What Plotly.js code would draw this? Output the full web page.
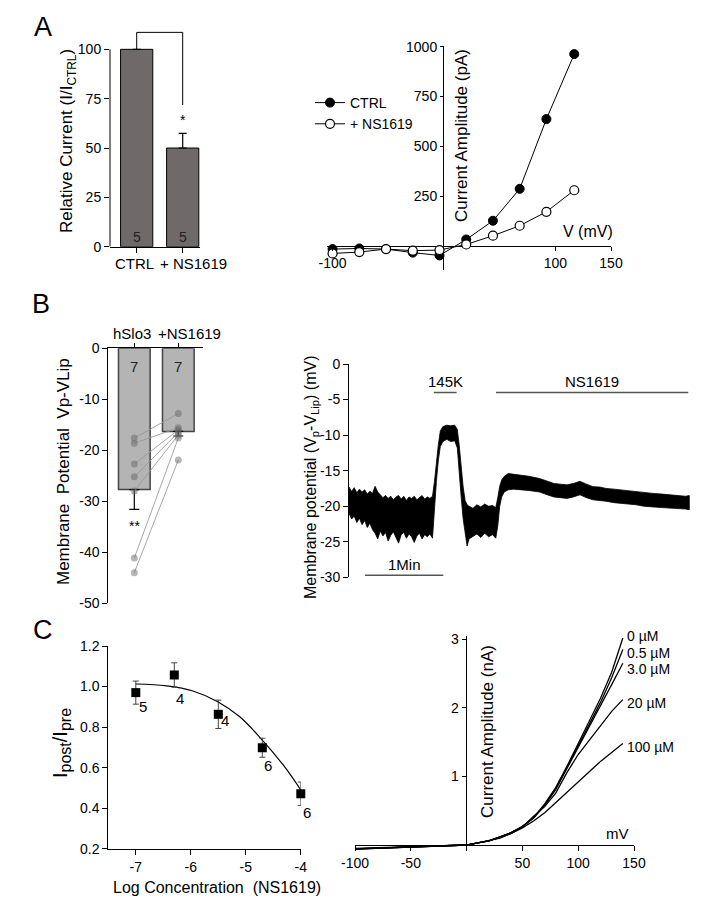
<!DOCTYPE html>
<html><head><meta charset="utf-8">
<script src="https://cdn.plot.ly/plotly-3.0.1.min.js"></script>
<style>html,body{margin:0;padding:0;background:#fff}#chart{width:716px;height:904px}</style>
</head><body><div id="chart"></div>
<script>
// ---------- Panel A (left): relative current ----------
const aCats = ['CTRL', '+ NS1619'];
const aRel = [100, 50];
const aRelErr = [0, 7.4];
const aN = ['5', '5'];
// ---------- Panel A (right): I-V curves ----------
const aV = [-100, -76, -52, -28, -4, 20, 44, 68, 92, 117];
const aCtrl = [-15, -12, -15, -33, -47, 33, 127, 287, 637, 963];
const aNs = [-37, -30, -15, -23, -20, 8, 52, 102, 172, 280];
// ---------- Panel B (left): membrane potential bars ----------
const bCats = ['hSlo3', '+NS1619'];
const bMean = [-27.7, -16.3];
const bErr = [3.9, 0.9];
const bN = ['7', '7'];
const bCellCtrl = [-17.6, -18.6, -22.7, -25.2, -28.0, -41.1, -44.0];
const bCellNs = [-12.8, -15.6, -16.0, -16.5, -17.0, -17.6, -21.9];
// ---------- Panel B (right): recording trace (envelope of noisy trace) ----------
const bT = [0,2,4,6,8,10,12,14,16,18,20,22,24,26,28,30,32,34,36,38,40,42,44,46,48,50,52,54,56,58,60,62,64,
  65.5,67,68.5,70,72,75,78,81,83,84.5,86,87.5,89,90.5,92,95,98,101,104,107,110,112.5,114,115.5,117,119,122,126,131,
  138,146,152,157,162,167,172,177,182,187,192,197,203,208,214,220,226,233,240,246,252,258,260.8];
const bTop = [-17.3,-17.9,-17.4,-18.1,-17.6,-18.0,-17.7,-18.3,-17.9,-18.2,-17.2,-18.0,-18.4,-18.8,-18.5,-18.9,-18.6,-19.1,-18.7,-18.5,-19.0,-18.6,-19.2,-18.7,-18.9,-18.6,-19.1,-18.8,-18.5,-19.0,-18.7,-18.9,-18.6,
  -16.5,-13.5,-11.3,-9.4,-8.8,-8.6,-8.7,-8.6,-9.2,-11.5,-14.5,-17.3,-19.2,-19.8,-20.0,-20.3,-19.8,-20.1,-19.7,-20.0,-19.9,-20.2,-18.8,-17.2,-16.3,-15.8,-15.4,-15.5,-15.6,
  -15.8,-16.1,-16.5,-16.8,-16.9,-17.0,-16.8,-16.5,-16.9,-17.25,-17.3,-17.5,-17.6,-17.7,-17.9,-18.0,-18.1,-18.2,-18.3,-18.4,-18.5,-18.6,-18.5];
const bBot = [-21.0,-21.8,-21.4,-22.3,-21.7,-22.6,-22.0,-23.0,-22.4,-23.3,-23.8,-24.6,-23.5,-24.2,-23.7,-24.9,-24.1,-23.6,-24.4,-25.2,-24.0,-23.7,-24.5,-23.9,-24.3,-25.1,-24.2,-23.8,-24.6,-24.0,-24.3,-23.9,-24.5,
  -20.5,-16.5,-13.5,-11.6,-10.9,-10.6,-10.9,-10.8,-11.8,-15.0,-18.8,-21.8,-24.0,-25.6,-24.6,-24.2,-23.9,-24.4,-23.8,-24.3,-24.0,-24.5,-22.8,-20.0,-18.7,-18.0,-17.7,-17.6,-17.7,
  -17.8,-18.0,-18.4,-18.7,-18.8,-18.9,-18.7,-18.4,-18.8,-19.1,-19.2,-19.3,-19.5,-19.6,-19.7,-19.8,-20.0,-20.1,-20.2,-20.3,-20.3,-20.4,-20.5];
const bMarkText = ['145K', 'NS1619', '1Min'];
const bMarkT0 = [65, 112.7, 12.3];
const bMarkT1 = [82.5, 260, 72.3];
const bMarkY = [-4, -4, -29.7];
// ---------- Panel C (left): concentration response ----------
const cLogC = [-7, -6.3, -5.5, -4.7, -4];
const cRatio = [0.97, 1.057, 0.863, 0.698, 0.471];
const cErr = [0.057, 0.06, 0.07, 0.047, 0.058];
const cN = ['5', '4', '4', '6', '6'];
const cFitX = [-7, -6.44, -5.96, -5.51, -5.11, -4.70, -4.32, -4.0];
const cFitY = [1.0125, 1.003, 0.978, 0.925, 0.851, 0.736, 0.613, 0.49];
// ---------- Panel C (right): ramp I-V traces ----------
const cV = [-100, -75, -50, -25, 0, 10, 20, 30, 40, 50, 60, 70, 80, 90, 100, 110, 120, 130, 140];
const cConc = ['0 \u00b5M', '0.5 \u00b5M', '3.0 \u00b5M', '20 \u00b5M', '100 \u00b5M'];
const cI0   = [-0.06,-0.045,-0.03,-0.015,0,0.03,0.06,0.12,0.18,0.27,0.40,0.60,0.84,1.15,1.48,1.80,2.14,2.52,3.02];
const cI05  = [-0.06,-0.045,-0.03,-0.015,0,0.03,0.06,0.12,0.18,0.27,0.40,0.59,0.83,1.13,1.45,1.76,2.08,2.44,2.85];
const cI3   = [-0.055,-0.04,-0.028,-0.014,0,0.03,0.06,0.12,0.18,0.27,0.39,0.58,0.81,1.12,1.42,1.72,2.02,2.34,2.65];
const cI20  = [-0.055,-0.04,-0.028,-0.014,0,0.03,0.06,0.11,0.17,0.26,0.42,0.56,0.76,1.06,1.32,1.53,1.74,1.95,2.12];
const cI100 = [-0.05,-0.038,-0.026,-0.013,0,0.03,0.06,0.10,0.17,0.25,0.35,0.47,0.62,0.77,0.92,1.08,1.22,1.35,1.48];
const cSeries = [cI0, cI05, cI3, cI20, cI100];

// ---------- layout helpers ----------
const W = 716, H = 904;
const PX = v => v / W;
const PY = v => 1 - v / H;
const FONT = 'Liberation Sans, Arial, Helvetica, sans-serif';
const txt = a => a.map(v => String(v));
const axBase = {showgrid:false, zeroline:false, showline:true, linecolor:'#000', linewidth:1,
  ticks:'outside', ticklen:5, tickwidth:1, tickcolor:'#000', tickfont:{size:14, color:'#000'}, tickangle:0, fixedrange:true};
const crossAx = {showline:false, zeroline:true, zerolinecolor:'#000', zerolinewidth:1};

const traces = [];
// A left
traces.push({type:'bar', x:aCats.map((_, i) => i), y:aRel, xaxis:'x', yaxis:'y', width:0.7,
  marker:{color:'#6f6969', line:{color:'#000', width:1}},
  error_y:{type:'data', symmetric:false, array:aRelErr, arrayminus:aRel.map(() => 0), color:'#000', thickness:1.2, width:4},
  showlegend:false, hoverinfo:'skip'});
// A right
traces.push({type:'scatter', mode:'lines+markers', name:'CTRL', x:aV, y:aCtrl, xaxis:'x2', yaxis:'y2',
  line:{color:'#000', width:1}, marker:{symbol:'circle', size:9, color:'#000', line:{color:'#000', width:1}}, cliponaxis:false});
traces.push({type:'scatter', mode:'lines+markers', name:'+ NS1619', x:aV, y:aNs, xaxis:'x2', yaxis:'y2',
  line:{color:'#000', width:1}, marker:{symbol:'circle', size:9, color:'#fff', line:{color:'#000', width:1.2}}, cliponaxis:false});
// B left
traces.push({type:'bar', x:bCats.map((_, i) => i), y:bMean, xaxis:'x3', yaxis:'y3', width:0.72,
  marker:{color:'#b4b4b4', line:{color:'#444', width:1.5}},
  error_y:{type:'data', symmetric:false, array:bMean.map(() => 0), arrayminus:bErr, color:'#000', thickness:1.2, width:5},
  showlegend:false, hoverinfo:'skip'});
const pairX = [], pairY = [];
bCellCtrl.forEach((v, i) => { pairX.push(0, 1, null); pairY.push(v, bCellNs[i], null); });
traces.push({type:'scatter', mode:'lines', x:pairX, y:pairY, xaxis:'x3', yaxis:'y3',
  line:{color:'rgba(150,150,150,0.85)', width:1}, showlegend:false, hoverinfo:'skip'});
traces.push({type:'scatter', mode:'markers', x:bCellCtrl.map(() => 0).concat(bCellNs.map(() => 1)),
  y:bCellCtrl.concat(bCellNs), xaxis:'x3', yaxis:'y3',
  marker:{color:'rgba(95,95,95,0.45)', size:7}, showlegend:false, hoverinfo:'skip', cliponaxis:false});
// B right
traces.push({type:'scatter', mode:'lines', x:bT.concat(bT.slice().reverse()), y:bTop.concat(bBot.slice().reverse()),
  fill:'toself', fillcolor:'#000', line:{color:'#000', width:0.8}, xaxis:'x4', yaxis:'y4', showlegend:false, hoverinfo:'skip'});
bMarkText.forEach((t, i) => {
  traces.push({type:'scatter', mode:'lines', x:[bMarkT0[i], bMarkT1[i]], y:[bMarkY[i], bMarkY[i]], xaxis:'x4', yaxis:'y4',
    line:{color:'#555', width:1.5}, showlegend:false, hoverinfo:'skip', cliponaxis:false});
});
// C left
traces.push({type:'scatter', mode:'lines', x:cFitX, y:cFitY, xaxis:'x5', yaxis:'y5', line:{color:'#000', width:1.2, shape:'spline'},
  showlegend:false, hoverinfo:'skip'});
traces.push({type:'scatter', mode:'markers', x:cLogC, y:cRatio, xaxis:'x5', yaxis:'y5',
  marker:{symbol:'square', size:9, color:'#000'},
  error_y:{type:'data', array:cErr, color:'#444', thickness:1, width:3}, cliponaxis:false, showlegend:false, hoverinfo:'skip'});
// C right
cSeries.forEach((s, i) => {
  traces.push({type:'scatter', mode:'lines', x:cV, y:s, xaxis:'x6', yaxis:'y6', line:{color:'#000', width:1.3},
    showlegend:false, hoverinfo:'skip', cliponaxis:false});
});

const ann = [];
const A = (o) => ann.push(Object.assign({showarrow:false, xanchor:'center', yanchor:'middle', font:{size:15, color:'#000'}}, o));
// panel letters
A({xref:'paper', yref:'paper', x:PX(43), y:PY(27), text:'A', font:{size:27, color:'#000'}});
A({xref:'paper', yref:'paper', x:PX(41), y:PY(304), text:'B', font:{size:27, color:'#000'}});
A({xref:'paper', yref:'paper', x:PX(43), y:PY(630), text:'C', font:{size:27, color:'#000'}});
// A left
A({xref:'paper', yref:'paper', x:PX(68), y:PY(141), textangle:-90, text:'Relative Current (I/I<sub>CTRL</sub>)', font:{size:17, color:'#000'}});
const aCatDx = [-2, 11];
aCats.forEach((t, i) => A({xref:'x', yref:'y', x:i, y:0, xshift:aCatDx[i], yshift:-17, text:t, font:{size:15, color:'#000'}}));
aN.forEach((t, i) => A({xref:'x', yref:'y', x:i, y:0, yshift:10, text:t, font:{size:14, color:'#222'}}));
A({xref:'x', yref:'y', x:1, y:aRel[1] + aRelErr[1], yshift:13, text:'*', font:{size:14, color:'#000'}});
// A right
A({xref:'paper', yref:'paper', x:PX(588), y:PY(232), text:'V (mV)', font:{size:16, color:'#000'}});
A({xref:'paper', yref:'paper', x:PX(462), y:PY(135), textangle:-90, text:'Current Amplitude (pA)', font:{size:17, color:'#000'}});
// B left
const bCatDx = [-2, 11];
bCats.forEach((t, i) => A({xref:'x3', yref:'y3', x:i, y:0, xshift:bCatDx[i], yshift:15, text:t, font:{size:15, color:'#000'}}));
bN.forEach((t, i) => A({xref:'x3', yref:'y3', x:i, y:0, yshift:-18, text:t, font:{size:15, color:'#222'}}));
A({xref:'x3', yref:'y3', x:0, y:bMean[0] - bErr[0], yshift:-17, text:'**', font:{size:14, color:'#000'}});
A({xref:'paper', yref:'paper', x:PX(63), y:PY(472), textangle:-90, text:'Membrane  Potential  Vp-VLip', font:{size:17, color:'#000'}});
// B right
bMarkText.forEach((t, i) => A({xref:'x4', yref:'y4', x:(bMarkT0[i] + bMarkT1[i]) / 2, y:bMarkY[i], yshift:11, text:t, font:{size:15, color:'#000'}}));
A({xref:'paper', yref:'paper', x:PX(311), y:PY(478), textangle:-90,
  text:'Membrane potential (V<sub>p</sub>-V<sub>Lip</sub>) (mV)', font:{size:16, color:'#000'}});
// C left
const cNdx = [7, 6, 7, 6, 6], cNdy = [-14, -24, -6, -18, -19];
cN.forEach((t, i) => A({xref:'x5', yref:'y5', x:cLogC[i], y:cRatio[i], xshift:cNdx[i], yshift:cNdy[i], text:t, font:{size:15, color:'#000'}}));
A({xref:'paper', yref:'paper', x:PX(61), y:PY(743), textangle:-90,
  text:'I<sub><span style="font-size:16px">post</span></sub>/I<sub><span style="font-size:16px">pre</span></sub>', font:{size:20, color:'#000'}});
A({xref:'paper', yref:'paper', x:PX(217), y:PY(887), text:'Log Concentration  (NS1619)', font:{size:16, color:'#000'}});
// C right
const cLdy = [2, -3, -6, -3, -3];
cConc.forEach((t, i) => A({xref:'x6', yref:'y6', x:cV[cV.length - 1], y:cSeries[i][cSeries[i].length - 1], xanchor:'left', xshift:2, yshift:cLdy[i],
  text:t, font:{size:14, color:'#000'}}));
A({xref:'x6', yref:'y6', x:135, y:0, yshift:12, text:'mV', font:{size:15, color:'#000'}});
A({xref:'paper', yref:'paper', x:PX(487), y:PY(732), textangle:-90, text:'Current Amplitude (nA)', font:{size:17, color:'#000'}});

const layout = {
  width:W, height:H, margin:{l:0, r:0, t:0, b:0}, paper_bgcolor:'#fff', plot_bgcolor:'rgba(0,0,0,0)',
  font:{family:FONT, color:'#000', size:14},
  showlegend:true,
  legend:{x:PX(310), y:PY(87), xanchor:'left', yanchor:'top', bgcolor:'rgba(0,0,0,0)', font:{size:14}, tracegroupgap:0},
  // A left
  xaxis:Object.assign({}, axBase, {domain:[PX(110), PX(200)], range:[-0.58, 1.376], anchor:'y',
    tickvals:aCats.map((_, i) => i), showticklabels:false}),
  yaxis:Object.assign({}, axBase, {domain:[PY(246.7), PY(29.6)], range:[0, 110], anchor:'x', showline:false,
    tickvals:[0, 25, 50, 75, 100], ticktext:txt([0, 25, 50, 75, 100])}),
  // A right (axes cross at the origin: zero lines draw the crossing axis lines)
  xaxis2:Object.assign({}, axBase, crossAx, {domain:[PX(327), PX(611)], range:[-105, 150], anchor:'free', position:PY(246.1),
    tickvals:[-100, 100, 150], ticktext:txt([-100, 100, 150]), ticklen:4}),
  yaxis2:Object.assign({}, axBase, crossAx, {domain:[PY(270), PY(46.7)], range:[-120, 1000], anchor:'free', position:PX(444),
    tickvals:[250, 500, 750, 1000], ticktext:txt([250, 500, 750, 1000]), ticklen:4}),
  // B left
  xaxis3:Object.assign({}, axBase, {domain:[PX(108.3), PX(203)], range:[-0.591, 1.561], anchor:'y3', side:'top',
    tickvals:bCats.map((_, i) => i), showticklabels:false, ticklen:4}),
  yaxis3:Object.assign({}, axBase, {domain:[PY(603.3), PY(348.3)], range:[-50, 0], anchor:'x3',
    tickvals:[0, -10, -20, -30, -40, -50], ticktext:txt([0, -10, -20, -30, -40, -50])}),
  // B right
  xaxis4:{domain:[PX(349), PX(700)], range:[0, 269], anchor:'y4', visible:false, fixedrange:true},
  yaxis4:Object.assign({}, axBase, {domain:[PY(577.3), PY(364)], range:[-30, 0], anchor:'x4',
    tickvals:[0, -5, -10, -15, -20, -25, -30], ticktext:txt([0, -5, -10, -15, -20, -25, -30])}),
  // C left
  xaxis5:Object.assign({}, axBase, {domain:[PX(108.3), PX(300.8)], range:[-7.5, -4], anchor:'y5',
    tickvals:[-7, -6, -5, -4], ticktext:txt([-7, -6, -5, -4])}),
  yaxis5:Object.assign({}, axBase, {domain:[PY(848.7), PY(646)], range:[0.2, 1.2], anchor:'x5',
    tickvals:[0.2, 0.4, 0.6, 0.8, 1.0, 1.2], ticktext:['0.2', '0.4', '0.6', '0.8', '1.0', '1.2']}),
  // C right
  xaxis6:Object.assign({}, axBase, crossAx, {domain:[PX(355), PX(634)], range:[-100, 150], anchor:'free', position:PY(845),
    tickvals:[-100, -50, 50, 100, 150], ticktext:txt([-100, -50, 50, 100, 150])}),
  yaxis6:Object.assign({}, axBase, crossAx, {domain:[PY(850.5), PY(635.9)], range:[-0.08, 3.05], anchor:'free', position:PX(466.6),
    tickvals:[1, 2, 3], ticktext:txt([1, 2, 3])}),
  shapes:[
    // A left: y axis line (0..100) and significance bracket
    {type:'line', xref:'paper', yref:'y', x0:PX(110), x1:PX(110), y0:0, y1:100, line:{color:'#000', width:1}},
    {type:'path', xref:'x', yref:'y', path:'M 0 100 L 0 108.6 L 1 108.6 L 1 71.8', line:{color:'#000', width:1}}
  ],
  annotations:ann
};

Plotly.newPlot('chart', traces, layout, {staticPlot:true, displayModeBar:false});
</script>
</body></html>
